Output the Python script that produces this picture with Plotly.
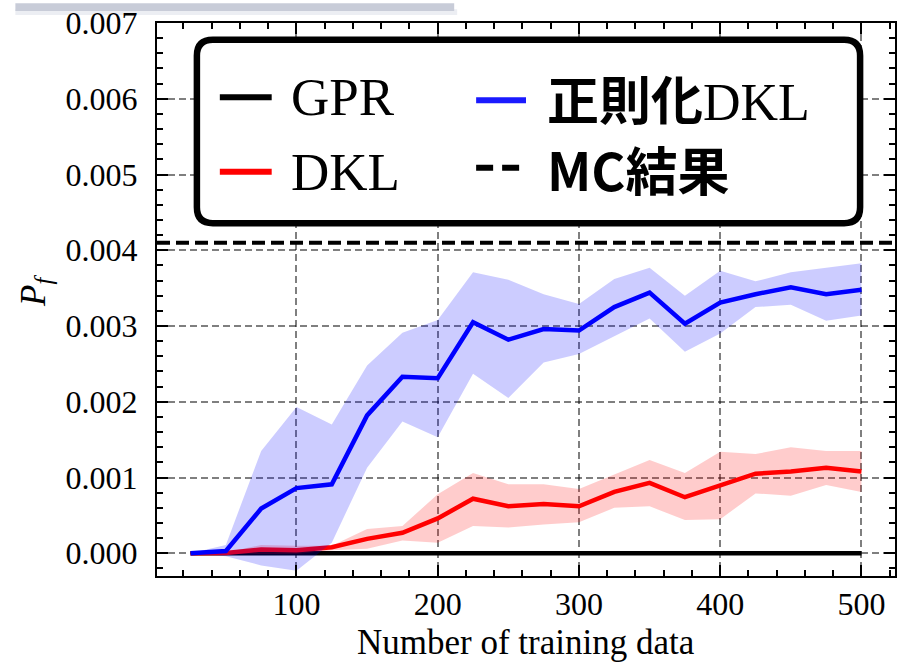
import plotly.graph_objects as go

# ---------------- data ----------------
n_train = [25, 50, 75, 100, 125, 150, 175, 200, 225, 250,
           275, 300, 325, 350, 375, 400, 425, 450, 475, 500]

SCALE = 1e-3
gpr_mean = [0, 0, 0, 0, 0, 0, 0, 0, 0, 0, 0, 0, 0, 0, 0, 0, 0, 0, 0, 0]

dkl_mean = [0, 0.005, 0.05, 0.04, 0.08, 0.19, 0.27, 0.46, 0.72, 0.62,
            0.65, 0.62, 0.81, 0.93, 0.74, 0.90, 1.05, 1.08, 1.13, 1.08]
dkl_upper = [0, 0.01, 0.11, 0.10, 0.10, 0.32, 0.36, 0.78, 1.06, 0.91,
             0.91, 0.85, 1.04, 1.23, 1.06, 1.34, 1.31, 1.40, 1.35, 1.35]
dkl_lower = [0, -0.01, -0.01, -0.01, 0.04, 0.06, 0.17, 0.14, 0.36, 0.34,
             0.38, 0.41, 0.60, 0.62, 0.44, 0.45, 0.79, 0.76, 0.90, 0.81]

rdkl_mean = [0, 0.03, 0.59, 0.86, 0.91, 1.82, 2.33, 2.31, 3.05, 2.82,
             2.96, 2.94, 3.25, 3.44, 3.03, 3.31, 3.42, 3.51, 3.42, 3.48]
rdkl_upper = [0, 0.11, 1.35, 1.93, 1.70, 2.48, 2.91, 3.08, 3.71, 3.61,
              3.42, 3.29, 3.62, 3.77, 3.40, 3.73, 3.59, 3.71, 3.77, 3.83]
rdkl_lower = [0, -0.04, -0.16, -0.23, 0.14, 1.13, 1.74, 1.53, 2.37, 2.05,
              2.52, 2.63, 2.87, 3.10, 2.66, 2.90, 3.25, 3.28, 3.07, 3.14]

mc_result = 0.0041

series_names = ["GPR", "DKL", "正則化DKL", "MC結果"]
x_ticks = [100, 200, 300, 400, 500]
y_ticks = [0.000, 0.001, 0.002, 0.003, 0.004, 0.005, 0.006, 0.007]
x_title = "Number of training data"

# ---------------- layout constants ----------------
W, H = 902, 664
L, R, T, B = 157, 897, 18, 576
SERIF = "Liberation Serif"
CJK = "Noto Sans CJK JP"


def px(xp):
    return (xp - L) / (R - L)


def py(yp):
    return (B - yp) / (B - T)


def sc(v):
    return [a * SCALE for a in v]


fig = go.Figure()

# GPR
fig.add_trace(go.Scatter(x=n_train, y=sc(gpr_mean), mode="lines",
                         line=dict(color="black", width=4.5),
                         showlegend=False, hoverinfo="skip"))
# DKL band + line
fig.add_trace(go.Scatter(x=n_train + n_train[::-1],
                         y=sc(dkl_upper) + sc(dkl_lower)[::-1],
                         fill="toself", fillcolor="rgba(255,0,0,0.2)",
                         line=dict(width=0), mode="lines",
                         showlegend=False, hoverinfo="skip"))
fig.add_trace(go.Scatter(x=n_train, y=sc(dkl_mean), mode="lines",
                         line=dict(color="#ff0000", width=4.5),
                         showlegend=False))
# Regularised DKL band + line
fig.add_trace(go.Scatter(x=n_train + n_train[::-1],
                         y=sc(rdkl_upper) + sc(rdkl_lower)[::-1],
                         fill="toself", fillcolor="rgba(0,0,255,0.2)",
                         line=dict(width=0), mode="lines",
                         showlegend=False, hoverinfo="skip"))
fig.add_trace(go.Scatter(x=n_train, y=sc(rdkl_mean), mode="lines",
                         line=dict(color="#0000ff", width=4.5),
                         showlegend=False))

shapes = []
# gray band artifact at top (behind everything)
shapes.append(dict(type="rect", xref="paper", yref="paper",
                   x0=px(15), x1=px(458), y0=py(10), y1=py(4),
                   fillcolor="#eceef3", line=dict(width=0), layer="below"))
shapes.append(dict(type="rect", xref="paper", yref="paper",
                   x0=px(15), x1=px(455), y0=py(6), y1=py(-2),
                   fillcolor="#c8ccd8", line=dict(width=0), layer="below"))

# MC result horizontal line
shapes.append(dict(type="line", xref="paper", yref="y", x0=0, x1=1,
                   y0=mc_result, y1=mc_result,
                   line=dict(color="black", width=4, dash="13px,6px")))

# custom legend box with rounded corners
bx0, bx1, by0, by1 = px(197), px(862), py(220), py(35)
rx, ry = 16 / (R - L), 16 / (B - T)
path = (f"M {bx0+rx},{by1} L {bx1-rx},{by1} Q {bx1},{by1} {bx1},{by1-ry} "
        f"L {bx1},{by0+ry} Q {bx1},{by0} {bx1-rx},{by0} "
        f"L {bx0+rx},{by0} Q {bx0},{by0} {bx0},{by0+ry} "
        f"L {bx0},{by1-ry} Q {bx0},{by1} {bx0+rx},{by1} Z")
shapes.append(dict(type="path", xref="paper", yref="paper", path=path,
                   fillcolor="white", line=dict(color="black", width=6.5),
                   layer="above"))

# legend swatches
swatch = [
    (220, 272, 93, "black", "solid"),
    (220, 272, 168, "#ff0000", "solid"),
    (477, 527, 96, "#1a1aff", "solid"),
    (477, 527, 164, "black", "17px,9px"),
]
for x0, x1, yy, c, d in swatch:
    shapes.append(dict(type="line", xref="paper", yref="paper",
                       x0=px(x0), x1=px(x1), y0=py(yy), y1=py(yy),
                       line=dict(color=c, width=6, dash=d), layer="above"))

annotations = []
leg_text = [
    (289, 93, series_names[0], dict(family=SERIF, size=53, color="black")),
    (289, 168, series_names[1], dict(family=SERIF, size=53, color="black")),
    (546, 93,
     f'<span style="font-family:\'{CJK}\';font-weight:bold">正則化</span>DKL',
     dict(family=SERIF, size=52, color="black")),
    (546, 165, f"<b>{series_names[3]}</b>",
     dict(family=CJK, size=52, color="black")),
]
for xx, yy, t, f in leg_text:
    annotations.append(dict(xref="paper", yref="paper", x=px(xx), y=py(yy),
                            xanchor="left", yanchor="middle", text=t,
                            showarrow=False, font=f))

# axis titles
annotations.append(dict(xref="paper", yref="paper", x=0.5, y=py(643),
                        xanchor="center", yanchor="middle", text=x_title,
                        showarrow=False,
                        font=dict(family=SERIF, size=35, color="black")))
annotations.append(dict(xref="paper", yref="paper", x=px(35), y=py(288),
                        xanchor="center", yanchor="middle",
                        text="<i>P</i><sub><i>f</i></sub>", textangle=-90,
                        showarrow=False,
                        font=dict(family=SERIF, size=35, color="black")))

axis_common = dict(
    showline=True, linecolor="black", linewidth=2, mirror="ticks",
    ticks="inside", ticklen=11, tickwidth=1.5, tickcolor="black",
    showgrid=True, gridcolor="rgba(0,0,0,0.5)", gridwidth=1.6,
    griddash="7px,4px", zeroline=False,
    tickfont=dict(family=SERIF, size=32, color="black"),
)

fig.update_layout(
    width=W, height=H,
    margin=dict(l=L, r=W - R, t=T, b=H - B, pad=0),
    plot_bgcolor="white", paper_bgcolor="white",
    shapes=shapes, annotations=annotations,
    xaxis=dict(range=[1.25, 523.75], tickmode="array", tickvals=x_ticks,
               ticktext=[str(v) for v in x_ticks], ticklabelstandoff=-1,
               minor=dict(dtick=20, tick0=0, ticks="inside", ticklen=6,
                          tickwidth=1.5, tickcolor="black", showgrid=False),
               **axis_common),
    yaxis=dict(range=[-0.0003, 0.007], tickmode="array", tickvals=y_ticks,
               ticktext=[f"{v:.3f}" for v in y_ticks], ticklabelstandoff=11,
               minor=dict(dtick=0.0002, tick0=0, ticks="inside", ticklen=6,
                          tickwidth=1.5, tickcolor="black", showgrid=False),
               **axis_common),
    showlegend=False,
)

fig.write_html("out.html")
